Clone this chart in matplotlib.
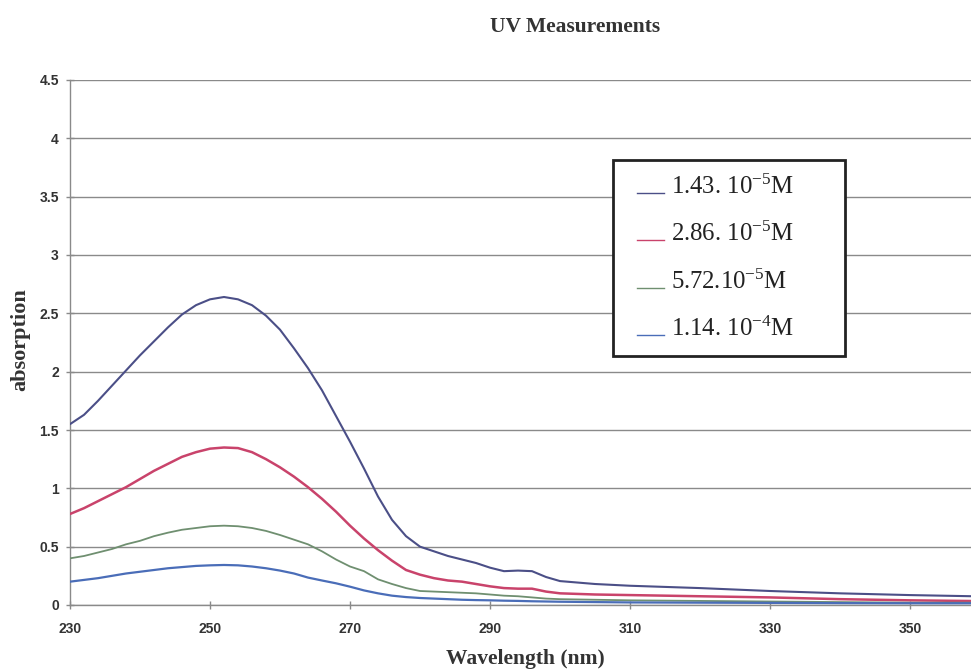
import numpy as np
import matplotlib
matplotlib.use("Agg")
import matplotlib.pyplot as plt
from matplotlib.lines import Line2D
from matplotlib.legend_handler import HandlerLine2D

# ---------------- data ----------------
wavelength = [230, 232, 234, 236, 238, 240, 242, 244, 246, 248, 250, 252, 254, 256,
              258, 260, 262, 264, 266, 268, 270, 272, 274, 276, 278, 280, 282, 284,
              286, 288, 290, 292, 294, 296, 298, 300, 305, 310, 320, 330, 340, 350, 359]

abs_143e5 = [1.55, 1.63, 1.75, 1.88, 2.01, 2.14, 2.26, 2.38, 2.49, 2.57, 2.62, 2.64, 2.62, 2.57,
             2.48, 2.36, 2.20, 2.03, 1.84, 1.62, 1.40, 1.17, 0.93, 0.73, 0.59, 0.50, 0.46, 0.42,
             0.39, 0.36, 0.32, 0.29, 0.295, 0.29, 0.24, 0.205, 0.18, 0.165, 0.145, 0.12, 0.10, 0.085, 0.075]

abs_286e5 = [0.78, 0.83, 0.89, 0.95, 1.01, 1.08, 1.15, 1.21, 1.27, 1.31, 1.34, 1.35, 1.345, 1.31,
             1.25, 1.18, 1.10, 1.01, 0.91, 0.80, 0.68, 0.57, 0.47, 0.38, 0.30, 0.26, 0.23, 0.21,
             0.20, 0.18, 0.16, 0.145, 0.14, 0.14, 0.115, 0.10, 0.09, 0.085, 0.075, 0.065, 0.05, 0.04, 0.034]

abs_572e5 = [0.40, 0.42, 0.45, 0.48, 0.52, 0.55, 0.59, 0.62, 0.645, 0.66, 0.675, 0.68, 0.675, 0.66,
             0.635, 0.60, 0.56, 0.52, 0.46, 0.39, 0.33, 0.29, 0.22, 0.18, 0.145, 0.12, 0.115, 0.11,
             0.105, 0.10, 0.09, 0.08, 0.075, 0.065, 0.055, 0.05, 0.045, 0.04, 0.035, 0.03, 0.025, 0.02, 0.02]

abs_114e4 = [0.20, 0.215, 0.23, 0.25, 0.27, 0.285, 0.30, 0.315, 0.325, 0.335, 0.34, 0.343, 0.34, 0.33,
             0.315, 0.295, 0.27, 0.235, 0.21, 0.186, 0.157, 0.125, 0.10, 0.08, 0.068, 0.06, 0.055, 0.05,
             0.045, 0.042, 0.04, 0.037, 0.035, 0.032, 0.03, 0.028, 0.025, 0.022, 0.02, 0.018, 0.016, 0.015, 0.015]

series_labels = [r"1.43. 10$^{\mathregular{-5}}$M", r"2.86. 10$^{\mathregular{-5}}$M",
                 r"5.72.10$^{\mathregular{-5}}$M", r"1.14. 10$^{\mathregular{-4}}$M"]
x_ticks = [230, 250, 270, 290, 310, 330, 350]
y_ticks = [0, 0.5, 1, 1.5, 2, 2.5, 3, 3.5, 4, 4.5]
y_tick_labels = ["0", "0.5", "1", "1.5", "2", "2.5", "3", "3.5", "4", "4.5"]

colors = ["#4b4f87", "#c9436b", "#6f8f70", "#4a6db8"]
widths = [1.5, 1.8, 1.3, 1.6]

# ---------------- figure ----------------
plt.rcParams["mathtext.fontset"] = "custom"
plt.rcParams["mathtext.rm"] = "Liberation Serif"
plt.rcParams["mathtext.it"] = "Liberation Serif:italic"
plt.rcParams["mathtext.bf"] = "Liberation Serif:bold"

fig = plt.figure(figsize=(9.71, 6.70), dpi=100)
ax = fig.add_axes([70 / 971, 65 / 670, 901 / 971, 525 / 670])

for ys, c, lw in zip([abs_143e5, abs_286e5, abs_572e5, abs_114e4], colors, widths):
    ax.plot(wavelength, ys, color=c, lw=lw, solid_capstyle="round", solid_joinstyle="round", zorder=3)

ax.set_xlim(230, 230 + 901 / 7)
ax.set_ylim(0, 4.5)
ax.set_xticks(x_ticks)
ax.set_yticks(y_ticks)
ax.set_yticklabels(y_tick_labels)
ax.grid(axis="y", color="#8a8a8a", lw=1.0, zorder=1)
ax.grid(axis="x", visible=False)
for s in ["top", "right"]:
    ax.spines[s].set_visible(False)
for s in ["left", "bottom"]:
    ax.spines[s].set_color("#8a8a8a")
    ax.spines[s].set_linewidth(1.0)
ax.tick_params(axis="both", direction="inout", length=6, width=1.0, color="#8a8a8a",
               labelcolor="#333333", labelsize=10)
ax.tick_params(axis="x", pad=9)
ax.tick_params(axis="y", pad=5)
for lbl in ax.get_xticklabels() + ax.get_yticklabels():
    lbl.set_fontfamily("Liberation Sans")
    lbl.set_fontweight("bold")

fig.text(575 / 971, 1 - 27 / 670, "UV Measurements", ha="center", va="center",
         fontfamily="Liberation Serif", fontweight="bold", fontsize=15.5, color="#333333")
fig.text(525 / 971, 1 - 659 / 670, "Wavelength (nm)", ha="center", va="center",
         fontfamily="Liberation Serif", fontweight="bold", fontsize=15.5, color="#333333")
fig.text(20 / 971, 1 - 340 / 670, "absorption", ha="center", va="center", rotation=90,
         fontfamily="Liberation Serif", fontweight="bold", fontsize=16, color="#333333")


class LowHandler(HandlerLine2D):
    def create_artists(self, legend, orig_handle, xdescent, ydescent, width, height, fontsize, trans):
        arts = super().create_artists(legend, orig_handle, xdescent, ydescent, width, height, fontsize, trans)
        for a in arts:
            if isinstance(a, Line2D):
                a.set_ydata(np.asarray(a.get_ydata(), dtype=float) - height * 0.45)
                a.set_xdata(np.asarray(a.get_xdata(), dtype=float) + fontsize * 0.35)
        return arts


handles = [Line2D([0], [0], color=c, lw=1.0) for c in colors]
leg = ax.legend(handles, series_labels, loc="upper left",
                bbox_to_anchor=(0.603, 0.482, 0.257, 0.366), mode="expand",
                frameon=True, fancybox=False, framealpha=1, edgecolor="#222222",
                prop={"family": "Liberation Serif", "size": 17.8}, handlelength=1.1,
                handletextpad=0.65, labelspacing=0.93, borderpad=0.6, borderaxespad=0,
                handler_map={Line2D: LowHandler()})
leg.get_frame().set_linewidth(2.0)
for t in leg.get_texts():
    t.set_color("#222222")
leg.set_zorder(5)

fig.savefig("out.png", dpi=100)
